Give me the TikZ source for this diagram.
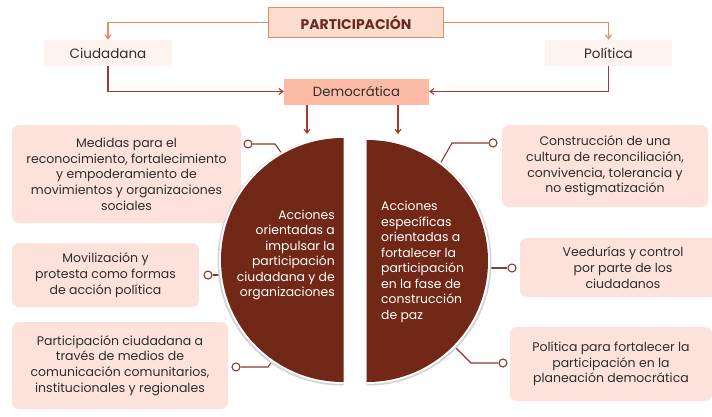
\documentclass[tikz,border=0pt]{standalone}
\usepackage{fontspec}
\setmainfont{Poppins}
\usetikzlibrary{arrows.meta}
\definecolor{disc}{HTML}{722817}
\definecolor{boxfill}{HTML}{FCE2DB}
\definecolor{lightfill}{HTML}{FEF3EE}
\definecolor{demfill}{HTML}{FDBAA5}
\definecolor{titlefill}{HTML}{FBDDD0}
\definecolor{orangeline}{HTML}{EC8A60}
\definecolor{redline}{HTML}{A63A2A}
\definecolor{conn}{HTML}{8B3A2E}
\definecolor{titletext}{HTML}{6B2A20}
\definecolor{bodytext}{HTML}{2E2E2E}
\tikzset{
  boxnode/.style={fill=boxfill, rounded corners=7pt, inner sep=0pt, align=center,
     text=bodytext, font=\fontsize{12.5}{15.7}\selectfont},
  lightbox/.style={fill=lightfill, inner sep=0pt, text=bodytext, font=\fontsize{13.5}{15}\selectfont},
  dot/.style={circle, draw=conn, fill=white, line width=1.1pt, minimum size=8pt, inner sep=0pt},
  connline/.style={draw=conn, line width=1.1pt},
  topline/.style={draw=orangeline, line width=1.3pt, -{Straight Barb[length=4pt,width=6pt]}},
  lowline/.style={draw=redline, line width=1.1pt, -{Straight Barb[length=4pt,width=6pt]}},
  disctext/.style={text=white, font=\fontsize{12.4}{15.5}\selectfont, inner sep=0pt}
}
\begin{document}
\begin{tikzpicture}[x=1pt,y=-1pt]
\useasboundingbox (0,0) rectangle (712,416);
\fill[white] (0,0) rectangle (712,416);

% top nodes
\node[draw=orangeline, line width=1.8pt, fill=titlefill, minimum width=175pt, minimum height=30pt,
      text=titletext, font=\bfseries\fontsize{14}{16}\selectfont] (part) at (356,22.5) {PARTICIPACIÓN};
\node[lightbox, minimum width=128pt, minimum height=26pt] (ciud) at (108,53) {Ciudadana};
\node[lightbox, minimum width=127pt, minimum height=26pt] (pol) at (608.5,53) {Política};
\node[fill=demfill, inner sep=0pt, minimum width=145pt, minimum height=26pt, text=bodytext,
      font=\fontsize{13.3}{15}\selectfont] (dem) at (356.5,91.5) {Democrática};

\draw[topline] (part.west) -| (ciud.north);
\draw[topline] (part.east) -| (pol.north);
\draw[lowline] (ciud.south) |- (dem.west);
\draw[lowline] (pol.south) |- (dem.east);

\coordinate (d1) at (307,104.5);
\coordinate (d2) at (398,104.5);
\coordinate (t1) at (307,134);
\coordinate (t2) at (398,134);
\draw[lowline] (d1) -- (t1);
\draw[lowline] (d2) -- (t2);

% boxes
\node[boxnode, minimum width=229pt, minimum height=98pt] (l1) at (126.5,174) {Medidas para el\\reconocimiento, fortalecimiento\\y empoderamiento de\\movimientos y organizaciones\\sociales};
\node[boxnode, minimum width=187pt, minimum height=64pt] (l2) at (105.5,275) {Movilización y\\protesta como formas\\de acción política};
\node[boxnode, minimum width=216pt, minimum height=87pt] (l3) at (120,365.5) {Participación ciudadana a\\través de medios de\\comunicación comunitarios,\\institucionales y regionales};
\node[boxnode, minimum width=206pt, minimum height=82pt] (r1) at (605,166) {Construcción de una\\cultura de reconciliación,\\convivencia, tolerancia y\\no estigmatización};
\node[boxnode, minimum width=206pt, minimum height=59pt] (r2) at (623,267.5) {Veedurías y control\\por parte de los\\ciudadanos};
\node[boxnode, minimum width=202pt, minimum height=74pt] (r3) at (611,364) {Política para fortalecer la\\participación en la\\planeación democrática};

% connectors
\node[dot] (c1) at (248,144) {};
\node[dot] (c2) at (208,275) {};
\node[dot] (c3) at (236,367) {};
\node[dot] (c4) at (493,143) {};
\node[dot] (c5) at (512,268) {};
\node[dot] (c6) at (503,363) {};
\coordinate (e1) at (285,158);
\coordinate (e2) at (226,275);
\coordinate (e3) at (275,357);
\coordinate (e4) at (440,164);
\coordinate (e5) at (484,268);
\coordinate (e6) at (454,346);
\draw[connline] (c1.east) -- (275,144) -- (e1);
\draw[connline] (c2.east) -- (e2);
\draw[connline] (c3.east) -- (268,367) -- (e3);
\draw[connline] (c4.west) -- (452,143) -- (e4);
\draw[connline] (c5.west) -- (e5);
\draw[connline] (c6.west) -- (471,363) -- (e6);

% half discs
\begin{scope}
  \clip (200,120) rectangle (343.5,400);
  \fill[gray!35] (342,261) circle[radius=124.5pt];
  \fill[white] (343,260) circle[radius=124pt];
  \fill[disc] (343,260) circle[radius=122pt];
\end{scope}
\begin{scope}
  \clip (366.5,120) rectangle (520,400);
  \fill[gray!35] (368,262) circle[radius=123.5pt];
  \fill[white] (367,261) circle[radius=123pt];
  \fill[disc] (367,261) circle[radius=121pt];
\end{scope}
\node[disctext, align=right, anchor=east] (lt) at (335,255) {Acciones\\orientadas a\\impulsar la\\participación\\ciudadana y de\\organizaciones};
\node[disctext, align=left, anchor=west] (rt) at (381,262) {Acciones\\específicas\\orientadas a\\fortalecer la\\participación\\en la fase de\\construcción\\de paz};
\end{tikzpicture}
\end{document}
